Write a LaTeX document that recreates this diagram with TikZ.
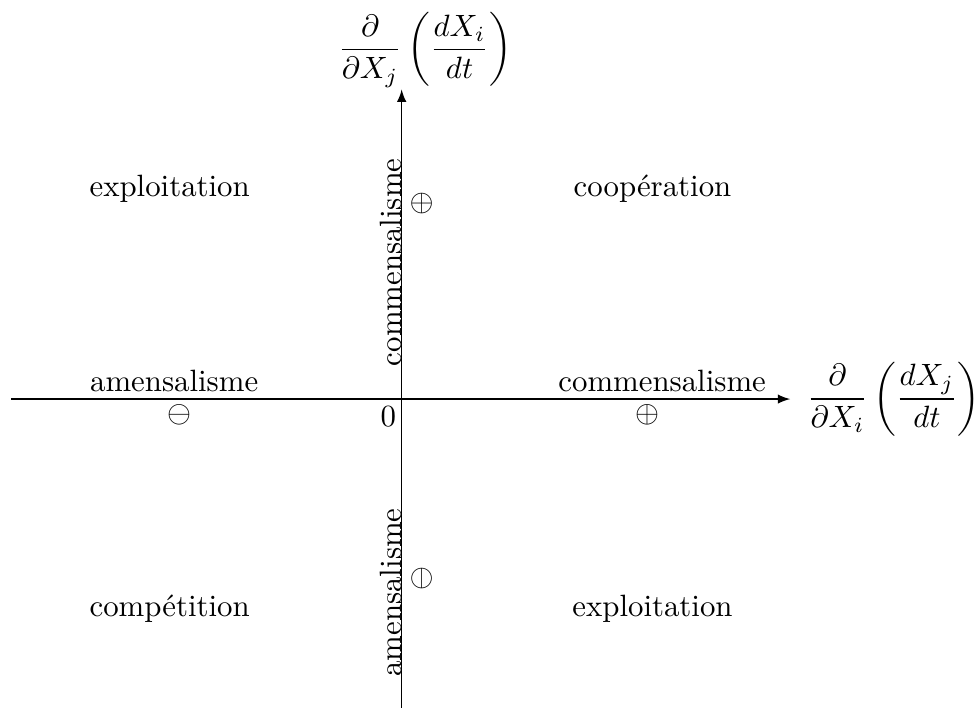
\documentclass[tikz,border=0pt]{standalone}
\usetikzlibrary{arrows}
\begin{document}
\begin{tikzpicture}[>=latex,vlab/.style={rotate=90},baselab/.style={anchor=base}]
\useasboundingbox (-4.58,-3.52) rectangle (6.56,4.55);
\coordinate (W) at (-4.45,0);
\coordinate (E) at (4.43,0);
\coordinate (S) at (0,-3.52);
\coordinate (N) at (0,3.53);
\node[anchor=west,inner sep=0] (xlab) at (4.613,0) {$\displaystyle\frac{\partial}{\partial X_i}\left(\frac{dX_j}{dt}\right)$};
\node[anchor=south,inner sep=0] (ylab) at (0.266,3.548) {$\displaystyle\frac{\partial}{\partial X_j}\left(\frac{dX_i}{dt}\right)$};
\node[baselab] (q2) at (-2.645,2.31) {exploitation};
\node[baselab] (q1) at (2.86,2.31) {coopération};
\node[baselab] (q3) at (-2.645,-2.48) {compétition};
\node[baselab] (q4) at (2.86,-2.48) {exploitation};
\node[baselab] (amW) at (-2.594,0.086) {amensalisme};
\node[baselab] (comE) at (2.97,0.086) {commensalisme};
\node (mW) at (-2.53,-0.18) {$\ominus$};
\node (pE) at (2.805,-0.18) {$\oplus$};
\node[vlab,baselab] (comN) at (0,1.559) {commensalisme};
\node[vlab,baselab] (amS) at (0,-2.206) {amensalisme};
\node[vlab] (pN) at (0.228,2.234) {$\oplus$};
\node[vlab] (mS) at (0.228,-2.042) {$\ominus$};
\node[baselab] (O) at (-0.152,-0.313) {$0$};
\draw[->] (W) -- (E);
\draw[->] (S) -- (N);
\end{tikzpicture}
\end{document}
